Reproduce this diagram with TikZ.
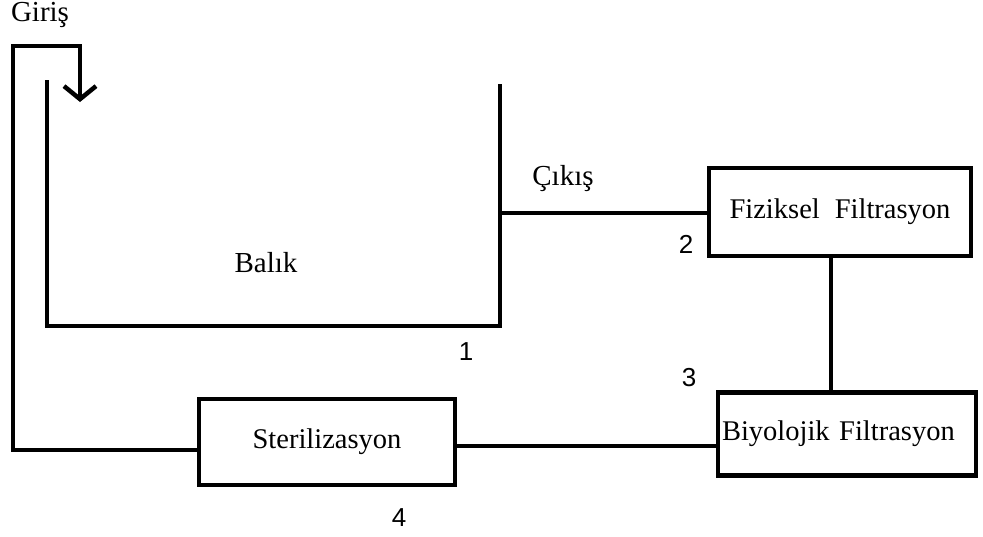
\documentclass[tikz,border=0pt]{standalone}
\usepackage{fontspec}
\setmainfont{Liberation Serif}
\newfontfamily\digitfont{Liberation Sans}
\usetikzlibrary{arrows.meta}
\begin{document}
\begin{tikzpicture}[x=1pt,y=-1pt,
  pipe/.style={line width=4.5pt},
  unit/.style={draw,line width=4.5pt,minimum width=#1,inner sep=0pt,
    font=\fontsize{28.5}{30}\selectfont},
  lbl/.style={font=\fontsize{29}{31}\selectfont,inner sep=0pt},
  num/.style={font=\digitfont\fontsize{26}{28}\selectfont,inner sep=0pt}]
\useasboundingbox (0,0) rectangle (983,536);
% tank walls
\coordinate (tl) at (47,80);
\coordinate (bl) at (47,326);
\coordinate (br) at (500,326);
\coordinate (tr) at (500,84);
\draw[pipe,line join=miter] (tl) -- (bl) -- (br) -- (tr);
% treatment units
\node[unit=262pt,minimum height=88pt] (fiz) at (840,212) {Fiziksel\; Filtrasyon};
\node[unit=258pt,minimum height=83pt,align=left,text width=250pt] (bio) at (847,434) {\raisebox{-4pt}{Biyolojik Filtrasyon}};
\node[unit=256pt,minimum height=86pt] (ster) at (327,442) {Sterilizasyon};
% piping between units
\coordinate (out) at (500,213);
\draw[pipe] (out) -- (fiz.west |- out);
\draw[pipe] (fiz.south -| 831,0) -- (bio.north -| 831,0);
\draw[pipe] (ster.east |- 0,446) -- (bio.west |- 0,446);
% return line to the inlet
\coordinate (r0) at (13,450);
\coordinate (r1) at (13,46);
\coordinate (r2) at (80,46);
\coordinate (r3) at (80,102);
\draw[pipe,line join=miter,-{Straight Barb[length=13pt,width=32pt,line width=4.5pt]}]
  (ster.west |- r0) -- (r0) -- (r1) -- (r2) -- (r3);
% labels
\node[lbl] (giris) at (40,15) {Giriş};
\node[lbl] (cikis) at (563,179) {Çıkış};
\node[lbl] (balik) at (266,263) {Balık};
\node[num] (n1) at (466,352) {1};
\node[num] (n2) at (686,244) {2};
\node[num] (n3) at (689,378) {3};
\node[num] (n4) at (399,518) {4};
\end{tikzpicture}
\end{document}
